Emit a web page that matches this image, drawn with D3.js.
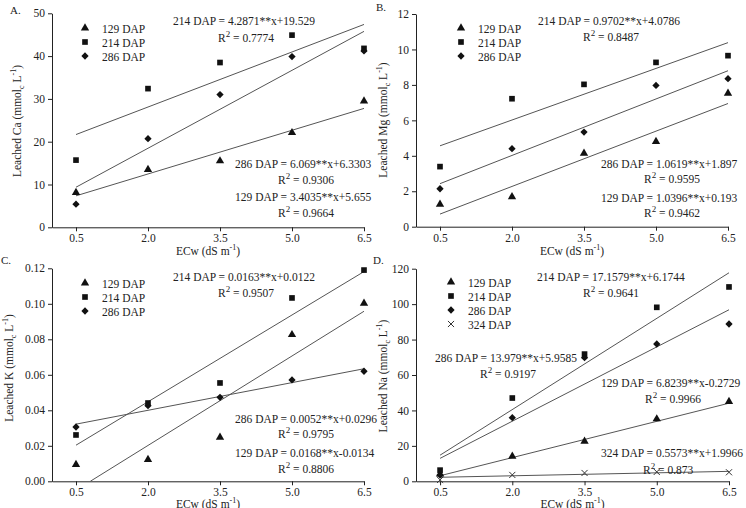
<!DOCTYPE html>
<html>
<head>
<meta charset="utf-8">
<script src="https://cdn.jsdelivr.net/npm/d3@7"></script>
<style>
  body { margin: 0; background: #fff; }
  svg text { font-family: "Liberation Serif", "Times New Roman", serif; fill: #222; }
  .axis text { font-size: 11.5px; }
  .axis path, .axis line { stroke: #222; }
</style>
</head>
<body>
<svg id="chart" width="746" height="508"></svg>
<script>
// EC of irrigation water (dS m-1)
const ecw = [0.5, 2.0, 3.5, 5.0, 6.5];
const dapNames = ['129 DAP', '214 DAP', '286 DAP', '324 DAP'];

// A. leached Ca
const ca129 = [8.1, 13.5, 15.5, 22.1, 29.5];
const ca214 = [15.7, 32.4, 38.5, 44.9, 41.8];
const ca286 = [5.4, 20.7, 31.0, 39.9, 41.2];
const caFit = [[3.4035, 5.655], [4.2871, 19.529], [6.069, 6.3303]];
const caEq = ['129 DAP = 3.4035**x+5.655', '214 DAP = 4.2871**x+19.529', '286 DAP = 6.069**x+6.3303'];
const caR2 = ['0.9664', '0.7774', '0.9306'];

// B. leached Mg
const mg129 = [1.26, 1.69, 4.14, 4.8, 7.52];
const mg214 = [3.39, 7.22, 8.03, 9.27, 9.65];
const mg286 = [2.14, 4.40, 5.34, 7.97, 8.35];
const mgFit = [[1.0396, 0.193], [0.9702, 4.0786], [1.0619, 1.897]];
const mgEq = ['129 DAP = 1.0396**x+0.193', '214 DAP = 0.9702**x+4.0786', '286 DAP = 1.0619**x+1.897'];
const mgR2 = ['0.9462', '0.8487', '0.9595'];

// C. leached K
const k129 = [0.0094, 0.0122, 0.0248, 0.0826, 0.1003];
const k214 = [0.0261, 0.0441, 0.0554, 0.1033, 0.119];
const k286 = [0.0306, 0.0426, 0.0473, 0.0571, 0.062];
const kFit = [[0.0168, -0.0134], [0.0163, 0.0122], [0.0052, 0.0296]];
const kEq = ['129 DAP = 0.0168**x-0.0134', '214 DAP = 0.0163**x+0.0122', '286 DAP = 0.0052**x+0.0296'];
const kR2 = ['0.8806', '0.9507', '0.9795'];

// D. leached Na
const na129 = [4.0, 14.1, 22.6, 35.2, 45.0];
const na214 = [6.3, 47.0, 71.8, 98.2, 109.7];
const na286 = [3.5, 35.9, 69.8, 77.5, 88.8];
const na324 = [0.8, 3.6, 4.7, 5.3, 5.1];
const naFit = [[6.8239, -0.2729], [17.1579, 6.1744], [13.979, 5.9585], [0.5573, 1.9966]];
const naEq = ['129 DAP = 6.8239**x-0.2729', '214 DAP = 17.1579**x+6.1744', '286 DAP = 13.979**x+5.9585', '324 DAP = 0.5573**x+1.9966'];
const naR2 = ['0.9966', '0.9641', '0.9197', '0.873'];

const svg = d3.select('#chart');

const symbols = [d3.symbolTriangle, d3.symbolSquare, d3.symbolDiamond2 || d3.symbolDiamond, d3.symbolTimes || d3.symbolX];
const symSize = [30, 32, 34, 26];

// layout: plot box, equation positions [eqX, eqY, r2X, r2Y] per series
const panels = [
  {
    letter: 'A.', lx: 10, ly: 14, x0: 52, x1: 364, yb: 227.3, yt: 13.3,
    yMax: 50, yTicks: d3.range(0, 51, 10), fmt: d3.format('d'), el: 'Ca',
    series: [ca129, ca214, ca286], fit: caFit, eq: caEq, r2: caR2,
    pos: [[235, 201, 278, 217], [173, 25, 218, 42], [235, 168, 278, 184]],
    legX: 85, legY: 28, ylabX: 17, ylabY: 121, xlabY: 255
  },
  {
    letter: 'B.', lx: 376, ly: 11, x0: 416, x1: 728, yb: 226.7, yt: 14,
    yMax: 12, yTicks: d3.range(0, 13, 2), fmt: d3.format('d'), el: 'Mg',
    series: [mg129, mg214, mg286], fit: mgFit, eq: mgEq, r2: mgR2,
    pos: [[601, 202, 644, 217], [538, 25, 583, 41], [601, 168, 644, 183]],
    legX: 461, legY: 28, ylabX: 383, ylabY: 120, xlabY: 255
  },
  {
    letter: 'C.', lx: 1, ly: 264, x0: 52, x1: 364, yb: 481.3, yt: 268.3,
    yMax: 0.12, yTicks: d3.range(0, 0.121, 0.02), fmt: d3.format('.2f'), el: 'K',
    series: [k129, k214, k286], fit: kFit, eq: kEq, r2: kR2,
    pos: [[235, 457, 278, 473], [173, 280.5, 218, 296.5], [235, 422.5, 278, 438]],
    legX: 85, legY: 283, ylabX: 9, ylabY: 368, xlabY: 508
  },
  {
    letter: 'D.', lx: 373, ly: 264, x0: 416, x1: 729, yb: 481.3, yt: 268.7,
    yMax: 120, yTicks: d3.range(0, 121, 20), fmt: d3.format('d'), el: 'Na',
    series: [na129, na214, na286, na324], fit: naFit, eq: naEq, r2: naR2,
    pos: [[601, 386.5, 645, 402.5], [537, 280.5, 583, 296.5], [435, 361.5, 480, 377.5], [601, 457, 643, 474]],
    legX: 451, legY: 282, ylabX: 383, ylabY: 376, xlabY: 508
  }
];

panels.forEach(p => {
  const g = svg.append('g');
  const x = d3.scaleLinear().domain([0, 6.5]).range([p.x0, p.x1]);
  const y = d3.scaleLinear().domain([0, p.yMax]).range([p.yb, p.yt]);

  g.append('g')
    .attr('class', 'axis')
    .attr('transform', `translate(0,${p.yb})`)
    .call(d3.axisBottom(x).tickValues(ecw).tickFormat(d3.format('.1f')).tickSize(4).tickSizeOuter(0));

  g.append('g')
    .attr('class', 'axis')
    .attr('transform', `translate(${p.x0},0)`)
    .call(d3.axisLeft(y).tickValues(p.yTicks).tickFormat(p.fmt).tickSize(4).tickSizeOuter(0));

  // regression lines
  p.fit.forEach(([a, b]) => {
    let xs = 0.5;
    if (a * xs + b < 0) xs = -b / a;
    g.append('line')
      .attr('x1', x(xs)).attr('y1', y(a * xs + b))
      .attr('x2', x(6.5)).attr('y2', y(a * 6.5 + b))
      .attr('stroke', '#555')
      .attr('stroke-width', 1);
  });

  // points
  p.series.forEach((vals, i) => {
    const cross = i === 3;
    g.selectAll(null)
      .data(vals)
      .enter()
      .append('path')
      .attr('d', d3.symbol().type(symbols[i]).size(symSize[i]))
      .attr('transform', (d, j) => `translate(${x(ecw[j])},${y(d)})`)
      .attr('fill', cross ? 'none' : '#111')
      .attr('stroke', cross ? '#333' : 'none')
      .attr('stroke-width', 1);
  });

  // legend
  p.series.forEach((vals, i) => {
    const cross = i === 3;
    g.append('path')
      .attr('d', d3.symbol().type(symbols[i]).size(symSize[i]))
      .attr('transform', `translate(${p.legX},${p.legY + i * 14})`)
      .attr('fill', cross ? 'none' : '#111')
      .attr('stroke', cross ? '#333' : 'none');
    g.append('text')
      .attr('x', p.legX + 17)
      .attr('y', p.legY + i * 14 + 4.5)
      .style('font-size', '11.5px')
      .text(dapNames[i]);
  });

  // equations
  p.eq.forEach((e, i) => {
    const [ex, ey, rx, ry] = p.pos[i];
    g.append('text')
      .attr('x', ex).attr('y', ey)
      .style('font-size', '11.5px')
      .text(e);
    const t = g.append('text')
      .attr('x', rx).attr('y', ry)
      .style('font-size', '11.5px');
    t.append('tspan').text('R');
    t.append('tspan').attr('dy', -5).style('font-size', '9px').text('2');
    t.append('tspan').attr('dy', 5).text(' = ' + p.r2[i]);
  });

  // panel letter
  g.append('text')
    .attr('x', p.lx).attr('y', p.ly)
    .style('font-size', '11px')
    .text(p.letter);

  // y label
  const yl = g.append('text')
    .attr('transform', `translate(${p.ylabX},${p.ylabY}) rotate(-90)`)
    .attr('text-anchor', 'middle')
    .attr('dy', '0.35em')
    .style('font-size', '11.5px');
  yl.append('tspan').text(`Leached ${p.el} (mmol`);
  yl.append('tspan').attr('dy', 3).style('font-size', '8px').text('c');
  yl.append('tspan').attr('dy', -3).text(' L');
  yl.append('tspan').attr('dy', -5).style('font-size', '8px').text('-1');
  yl.append('tspan').attr('dy', 5).text(')');

  // x label
  const xl = g.append('text')
    .attr('x', (p.x0 + p.x1) / 2).attr('y', p.xlabY)
    .attr('text-anchor', 'middle')
    .style('font-size', '11.5px');
  xl.append('tspan').text('ECw (dS m');
  xl.append('tspan').attr('dy', -5).style('font-size', '8px').text('-1');
  xl.append('tspan').attr('dy', 5).text(')');
});
</script>
</body>
</html>
